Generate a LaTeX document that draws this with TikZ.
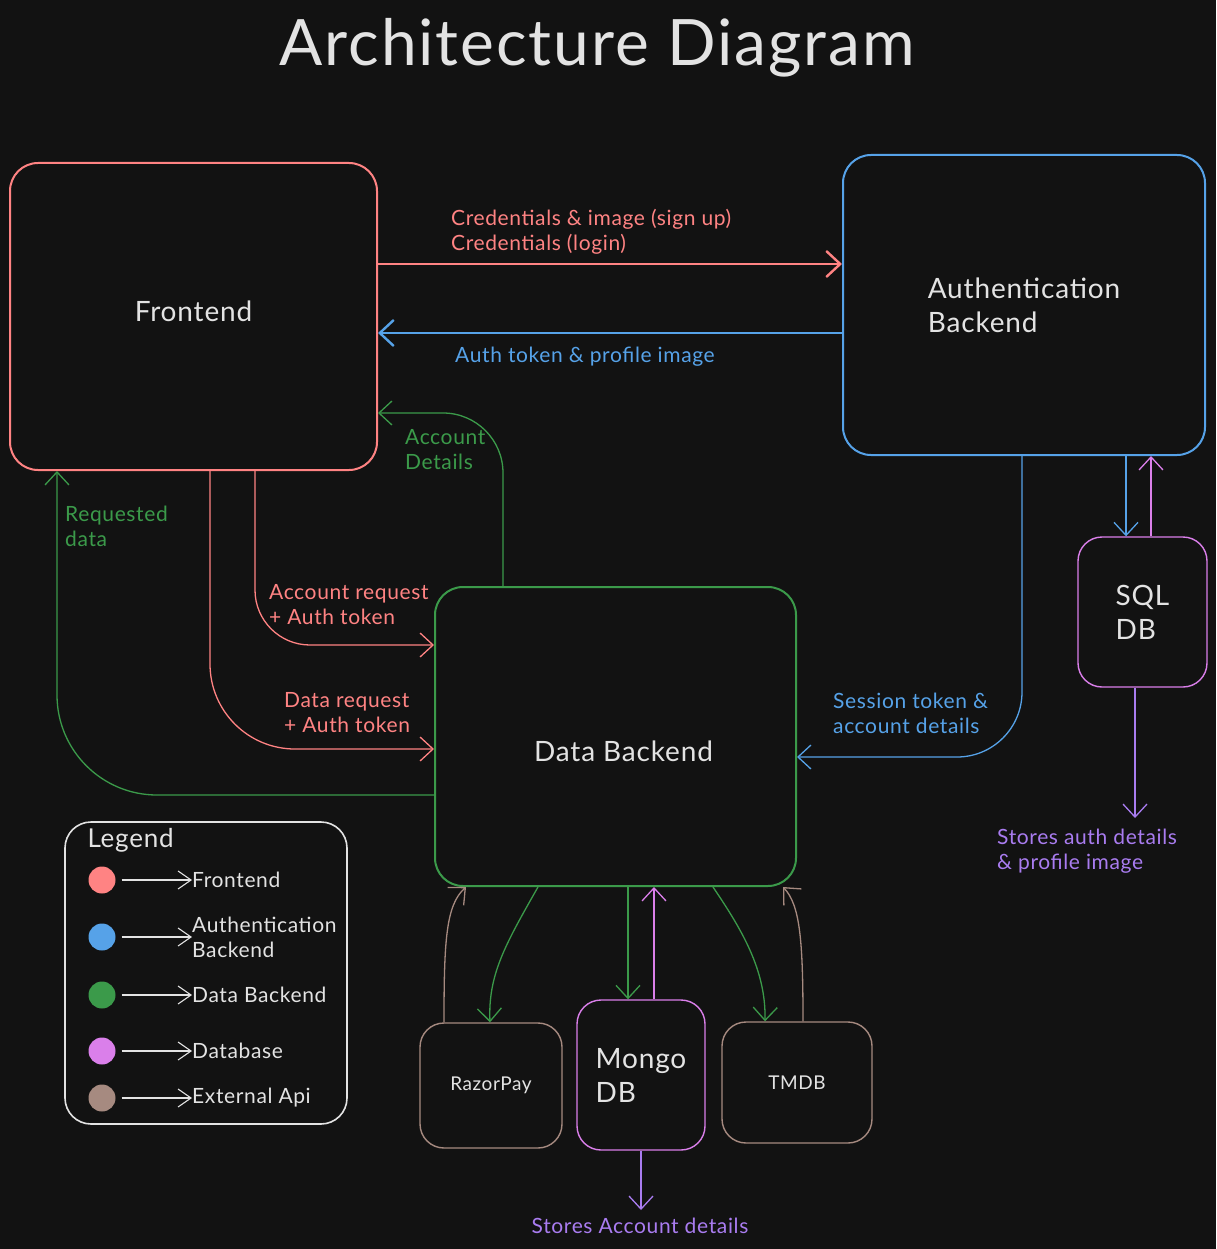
\documentclass[tikz,border=0pt]{standalone}
\usepackage{fontspec}
\setmainfont{Lato}[LetterSpace=3]
\usetikzlibrary{arrows.meta}
\definecolor{bg}{HTML}{121212}
\definecolor{ink}{HTML}{E3E3E3}
\definecolor{fered}{HTML}{FF8383}
\definecolor{authblue}{HTML}{56A2E8}
\definecolor{datagreen}{HTML}{3B9A4A}
\definecolor{dbpink}{HTML}{DA7FEA}
\definecolor{storepurple}{HTML}{A97CF0}
\definecolor{apibrown}{HTML}{A68A80}

\begin{document}
\begin{tikzpicture}[x=1pt,y=-1pt,
  box/.style={draw, line width=2pt, rounded corners=28pt, fill=bg, text=ink, inner sep=0pt, align=left, font=\fontsize{28}{34}\selectfont},
  smallbox/.style={box, line width=1.4pt, rounded corners=24pt},
  lbl/.style={anchor=north west, inner sep=0pt, align=left, font=\fontsize{21}{25}\selectfont},
  flow/.style={line width=1.3pt, -{Straight Barb[length=13pt,width=24pt]}},
  bigflow/.style={line width=2.4pt, -{Straight Barb[length=14pt,width=26pt]}},
  keyflow/.style={ink, line width=1.1pt, -{Straight Barb[length=13pt,width=18pt]}},
]
  \useasboundingbox[fill=bg] (0,0) rectangle (1216,1249);

  \node[text=ink, font=\fontsize{64}{70}\selectfont] (title) at (597,48) {Architecture Diagram};

  \node[box, draw=fered, minimum width=367pt, minimum height=307pt, label={[text=ink, font=\fontsize{28}{34}\selectfont, yshift=5pt]center:Frontend}] (fe) at (193.5,316.5) {};
  \node[box, draw=authblue, minimum width=362pt, minimum height=300pt] (auth) at (1024,305) {Authentication\\Backend};
  \node[box, draw=datagreen, minimum width=361pt, minimum height=299pt, label={[text=ink, font=\fontsize{28}{34}\selectfont, yshift=-15pt, xshift=8pt]center:Data Backend}] (data) at (615.5,736.5) {};
  \node[smallbox, draw=dbpink, minimum width=129pt, minimum height=150pt] (sql) at (1142.5,612) {SQL\\DB};
  \node[smallbox, draw=apibrown, minimum width=142pt, minimum height=125pt, font=\fontsize{19}{24}\selectfont] (rzp) at (491,1085.5) {RazorPay};
  \node[smallbox, draw=dbpink, minimum width=128pt, minimum height=150pt] (mongo) at (641,1075) {Mongo\\DB};
  \node[smallbox, draw=apibrown, minimum width=150pt, minimum height=121pt, font=\fontsize{19}{24}\selectfont] (tmdb) at (797,1082.5) {TMDB};

  \coordinate (sqlstore) at (1135,818);
  \coordinate (mongostore) at (641,1210);

  \draw[bigflow, fered] (fe.east |- 0,264) -- (auth.west |- 0,264);
  \draw[bigflow, authblue] (auth.west |- 0,333) -- (fe.east |- 0,333);
  \draw[flow, datagreen, rounded corners=60pt] (data.north -| 503,0) |- (fe.east |- 0,413);
  \draw[flow, fered, rounded corners=55pt] (fe.south -| 255,0) |- (data.west |- 0,645);
  \draw[flow, fered, rounded corners=85pt] (fe.south -| 210,0) |- (data.west |- 0,749);
  \draw[flow, datagreen, rounded corners=100pt] (data.west |- 0,795) -| (fe.south -| 57,0);
  \draw[flow, authblue, rounded corners=65pt] (auth.south -| 1022,0) |- (data.east |- 0,757);
  \draw[flow, authblue] (auth.south -| 1126,0) -- (sql.north -| 1126,0);
  \draw[flow, dbpink] (sql.north -| 1151,0) -- (auth.south -| 1151,0);
  \draw[flow, storepurple] (sql.south -| 1135,0) -- (sqlstore);

  \draw[flow, datagreen] (data.south -| 538,0) .. controls (505,945) and (488,975) .. (rzp.north -| 490,0);
  \draw[flow, datagreen] (data.south -| 628,0) -- (mongo.north -| 628,0);
  \draw[flow, dbpink] (mongo.north -| 654,0) -- (data.south -| 654,0);
  \draw[flow, datagreen] (data.south -| 713,0) .. controls (742,930) and (766,970) .. (tmdb.north -| 765,0);
  \draw[flow, apibrown] (rzp.north -| 444,0) .. controls (444,940) and (446,905) .. (data.south -| 466,0);
  \draw[flow, apibrown] (tmdb.north -| 803,0) .. controls (803,940) and (800,905) .. (data.south -| 783,0);
  \draw[flow, storepurple] (mongo.south -| 641,0) -- (mongostore);

  \node[lbl, text=fered] (credlbl) at (451,209) {Credentials \& image (sign up)\\Credentials (login)};
  \node[lbl, text=authblue] (toklbl) at (455,347) {Auth token \& profile image};
  \node[lbl, text=datagreen] (acclbl) at (405,429) {Account\\Details};
  \node[lbl, text=datagreen] (reqlbl) at (65,506) {Requested\\data};
  \node[lbl, text=fered] (accreqlbl) at (269,584) {Account request\\+ Auth token};
  \node[lbl, text=fered] (datareqlbl) at (284,692) {Data request\\+ Auth token};
  \node[lbl, text=authblue] (seslbl) at (833,693) {Session token \&\\account details};
  \node[lbl, text=storepurple] (sqlstorelbl) at (997,829) {Stores auth details\\\& profile image};
  \node[text=storepurple, font=\fontsize{21}{25}\selectfont] (mongostorelbl) at (640,1226) {Stores Account details};

  \node[box, draw=ink, line width=1.6pt, rounded corners=26pt, minimum width=282pt, minimum height=302pt] (legend) at (206,973) {};
  \node[anchor=west, text=ink, font=\fontsize{26}{30}\selectfont] (legendlbl) at (84,840) {Legend};
  \foreach \c/\y/\t in {fered/880/Frontend, authblue/937/{Authentication\\Backend}, datagreen/995/Data Backend, dbpink/1051/Database, apibrown/1098/External Api} {
    \node[circle, fill=\c, minimum size=27pt, inner sep=0pt] (dot\y) at (102,\y) {};
    \node[anchor=west, inner sep=0pt, align=left, text=ink, font=\fontsize{21}{25}\selectfont] (key\y) at (192,\y) {\t};
    \draw[keyflow, shorten <=6pt] (dot\y.east) -- (key\y.west);
  }
\end{tikzpicture}
\end{document}
